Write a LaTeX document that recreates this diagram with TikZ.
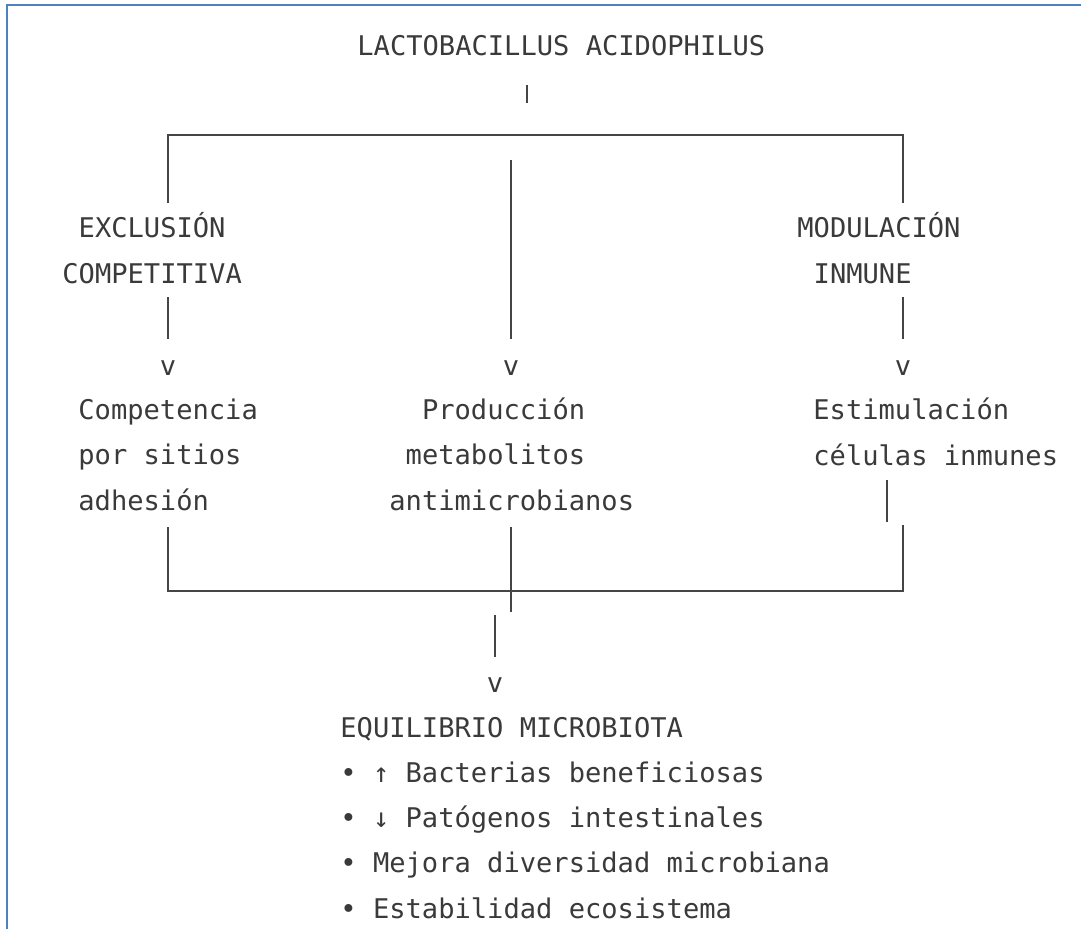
\documentclass[tikz,border=0pt]{standalone}
\usepackage{fontspec}
\setmonofont{DejaVu Sans Mono}
\definecolor{inkgray}{HTML}{3A3A3A}
\definecolor{wiregray}{HTML}{454545}
\definecolor{frameblue}{RGB}{79,129,189}

\tikzset{
  ascii/.style={font=\ttfamily\fontsize{13.55}{22.6}\selectfont, text=inkgray,
    inner sep=0pt, anchor=base west, align=left},
  vtip/.style={font=\ttfamily\fontsize{13.55}{22.6}\selectfont, text=inkgray,
    inner sep=0pt, anchor=base},
  wire/.style={draw=wiregray, line width=1pt},
  framebox/.style={draw=frameblue, line width=1.2pt}
}

\begin{document}
\begin{tikzpicture}[x=0.5pt, y=-0.5pt]
  \useasboundingbox (0,0) rectangle (1081,928);
  \draw[framebox] (7,940) -- (7,5) -- (1090,5);

  % top of the tree
  \node[ascii] (title) at (357,55) {LACTOBACILLUS ACIDOPHILUS};
  \coordinate (pipeA) at (527,85);
  \coordinate (pipeB) at (527,103);
  \draw[wire] (pipeA) -- (pipeB);

  \coordinate (splitL) at (168,135);
  \coordinate (splitR) at (903,135);
  \coordinate (midTop) at (511,160);
  \draw[wire] (168,203) -- (splitL) -- (splitR) -- (903,203);
  \draw[wire] (midTop) -- (511,339);

  % three branches (base = last line)
  \node[ascii] (excl) at (62,283) {~EXCLUSIÓN\\COMPETITIVA};
  \node[ascii] (modu) at (797,283) {MODULACIÓN\\~INMUNE};
  \draw[wire] (168,297) -- (168,339);
  \draw[wire] (903,297) -- (903,339);

  \node[vtip] (vL) at (168,375) {v};
  \node[vtip] (vM) at (511,375) {v};
  \node[vtip] (vR) at (903,375) {v};

  \node[ascii] (compet) at (78,510) {Competencia\\por sitios\\adhesión};
  \node[ascii] (produc) at (389,510) {~~Producción\\~metabolitos\\antimicrobianos};
  \node[ascii] (estim) at (813,465) {Estimulación\\células inmunes};

  % join below
  \coordinate (joinL) at (168,591);
  \coordinate (joinR) at (903,591);
  \draw[wire] (887,480) -- (887,522);
  \draw[wire] (168,527) -- (joinL) -- (joinR) -- (903,525);
  \draw[wire] (511,527) -- (511,612);
  \draw[wire] (495,615) -- (495,657);
  \node[vtip] (vB) at (495,692) {v};

  \node[ascii] (equil) at (340,918) {EQUILIBRIO MICROBIOTA\\%
    • ↑ Bacterias beneficiosas\\%
    • ↓ Patógenos intestinales\\%
    • Mejora diversidad microbiana\\%
    • Estabilidad ecosistema};
\end{tikzpicture}
\end{document}
